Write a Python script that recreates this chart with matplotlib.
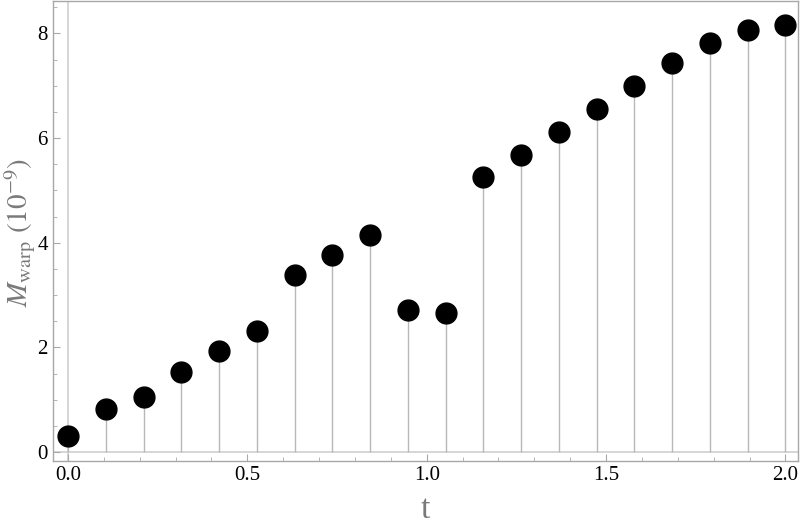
import numpy as np
import matplotlib.pyplot as plt

t = [0.0, 0.105, 0.211, 0.316, 0.421, 0.526, 0.632, 0.737, 0.842, 0.947,
     1.053, 1.158, 1.263, 1.368, 1.474, 1.579, 1.684, 1.789, 1.895, 2.0]
m_warp = [0.31, 0.82, 1.05, 1.53, 1.93, 2.31, 3.38, 3.76, 4.14, 2.71,
          2.65, 5.25, 5.67, 6.11, 6.55, 7.00, 7.44, 7.81, 8.07, 8.17]

plt.rcParams['font.family'] = ['Liberation Serif', 'DejaVu Serif']
plt.rcParams['mathtext.fontset'] = 'stix'

fig = plt.figure(figsize=(8, 5.25), dpi=100)
ax = fig.add_axes([0.066, 0.122, 0.932, 0.877])

ax.axhline(0, color='#d0d0d0', lw=1.2, zorder=1)
ax.axvline(0, color='#d0d0d0', lw=1.2, zorder=1)
ax.vlines(t, 0, m_warp, color='#b8b8b8', lw=1.0, zorder=2)
ax.plot(t, m_warp, 'o', color='black', ms=15, zorder=3)

ax.set_xlim(-0.042, 2.036)
ax.set_ylim(-0.17, 8.63)
ax.set_xticks([0, 0.5, 1.0, 1.5, 2.0])
ax.set_xticklabels(['0.0', '0.5', '1.0', '1.5', '2.0'])
ax.set_xticks(np.arange(0, 2.05, 0.1), minor=True)
ax.set_yticks([0, 2, 4, 6, 8])
ax.set_yticks(np.arange(0, 8.6, 0.5), minor=True)

for s in ax.spines.values():
    s.set_color('#a8a8a8')
    s.set_linewidth(1.0)
ax.tick_params(which='both', direction='in', color='#a8a8a8', labelsize=15,
               labelcolor='black')
ax.tick_params(which='major', length=5)
ax.tick_params(which='minor', length=3)

ax.set_xlabel('t', fontsize=24, color='#7a7a7a', va='center')
ax.xaxis.set_label_coords(0.5, -0.105)
ax.set_ylabel(r'$M_{\rm warp}$ $(10^{-9})$', fontsize=21, color='#7a7a7a', va='center')
ax.yaxis.set_label_coords(-0.044, 0.496)

fig.savefig('out.png', dpi=100)
